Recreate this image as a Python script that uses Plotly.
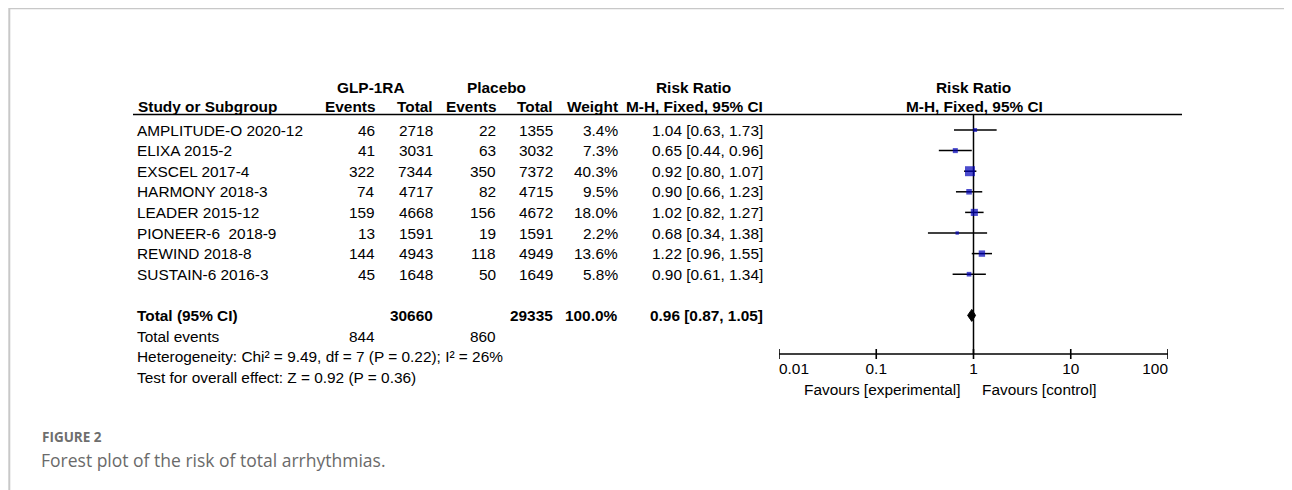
import plotly.graph_objects as go

# ---------------- data ----------------
studies = ["AMPLITUDE-O 2020-12", "ELIXA 2015-2", "EXSCEL 2017-4", "HARMONY 2018-3",
           "LEADER 2015-12", "PIONEER-6\u00a0 2018-9", "REWIND 2018-8", "SUSTAIN-6 2016-3"]
glp_events = [46, 41, 322, 74, 159, 13, 144, 45]
glp_total = [2718, 3031, 7344, 4717, 4668, 1591, 4943, 1648]
pla_events = [22, 63, 350, 82, 156, 19, 118, 50]
pla_total = [1355, 3032, 7372, 4715, 4672, 1591, 4949, 1649]
weights = [3.4, 7.3, 40.3, 9.5, 18.0, 2.2, 13.6, 5.8]
rr = [1.04, 0.65, 0.92, 0.90, 1.02, 0.68, 1.22, 0.90]
ci_low = [0.63, 0.44, 0.80, 0.66, 0.82, 0.34, 0.96, 0.61]
ci_high = [1.73, 0.96, 1.07, 1.23, 1.27, 1.38, 1.55, 1.34]

total_glp_total = 30660
total_pla_total = 29335
total_weight = 100.0
total_rr = 0.96
total_low = 0.87
total_high = 1.05
total_glp_events = 844
total_pla_events = 860
heterogeneity = "Heterogeneity: Chi\u00b2 = 9.49, df = 7 (P = 0.22); I\u00b2 = 26%"
overall_test = "Test for overall effect: Z = 0.92 (P = 0.36)"

tick_vals = [0.01, 0.1, 1, 10, 100]
tick_text = ["0.01", "0.1", "1", "10", "100"]

# ---------------- layout helpers ----------------
OFF = 8                     # page body margin
W, H = 1292 - OFF, 490 - OFF
ROW0, PITCH = 130.0, 20.6   # screen pixel of first row, row pitch


def px(x):
    return (x - OFF) / W


def py(y):
    return 1 - (y - OFF) / H


def rowy(pix):
    return (pix - ROW0) / PITCH


FONT = "Liberation Sans, Arial, sans-serif"
FS = 15.4
BLUE = "#0000b8"

AX_Y = rowy(354)
HDR_LINE = rowy(114.5)
TICK_HALF = 5 / PITCH

fig = go.Figure()

# vertical reference line at 1
fig.add_trace(go.Scatter(x=[1, 1], y=[HDR_LINE, AX_Y], mode="lines",
                         line=dict(color="black", width=1.5), hoverinfo="skip",
                         showlegend=False))

# confidence interval lines
for i in range(len(studies)):
    fig.add_trace(go.Scatter(x=[ci_low[i], ci_high[i]], y=[i, i], mode="lines",
                             line=dict(color="black", width=1.5), hoverinfo="skip",
                             showlegend=False))

# point estimates (size from weight)
fig.add_trace(go.Scatter(x=rr, y=list(range(len(studies))), mode="markers",
                         marker=dict(symbol="square", color=BLUE,
                                     size=[1.35 * w ** 0.5 + 1.4 for w in weights],
                                     line=dict(width=0)),
                         hoverinfo="skip", showlegend=False))

# total diamond
ty = 9
dh = 6 / PITCH
fig.add_trace(go.Scatter(x=[total_low, total_rr, total_high, total_rr, total_low],
                         y=[ty, ty - dh, ty, ty + dh, ty], mode="lines", fill="toself",
                         fillcolor="black", line=dict(color="black", width=1),
                         hoverinfo="skip", showlegend=False))

# axis line + ticks
fig.add_trace(go.Scatter(x=[tick_vals[0], tick_vals[-1]], y=[AX_Y, AX_Y], mode="lines",
                         line=dict(color="black", width=1.6), hoverinfo="skip",
                         showlegend=False))
tx, tyy = [], []
for t in tick_vals:
    tx += [t, t, None]
    tyy += [AX_Y - TICK_HALF, AX_Y + TICK_HALF, None]
fig.add_trace(go.Scatter(x=tx, y=tyy, mode="lines", line=dict(color="black", width=1.6),
                         hoverinfo="skip", showlegend=False))

# tick labels
fig.add_trace(go.Scatter(x=tick_vals, y=[rowy(370)] * len(tick_vals), mode="text",
                         text=tick_text,
                         textposition=["middle right", "middle center", "middle center",
                                       "middle center", "middle left"],
                         textfont=dict(family=FONT, size=FS, color="black"),
                         hoverinfo="skip", showlegend=False, cliponaxis=False))

annotations = []


def txt(x, y, s, anchor="left", bold=False, size=FS, color="black", yref="y", family=FONT):
    annotations.append(dict(x=x, y=y, xref="paper", yref=yref, text=("<b>%s</b>" % s) if bold else s,
                            showarrow=False, xanchor=anchor, yanchor="middle",
                            font=dict(family=family, size=size, color=color)))


# headers
h1 = rowy(87.2)
h2 = rowy(106.5)
txt(px(370.5), h1, "GLP-1RA", "center", True)
txt(px(496), h1, "Placebo", "center", True)
txt(px(693), h1, "Risk Ratio", "center", True)
txt(px(973.5), h1, "Risk Ratio", "center", True)
txt(px(136), h2, "Study or Subgroup", "left", True)
txt(px(377), h2, "Events", "right", True)
txt(px(435), h2, "Total", "right", True)
txt(px(498), h2, "Events", "right", True)
txt(px(555), h2, "Total", "right", True)
txt(px(620), h2, "Weight", "right", True)
txt(px(765), h2, "M-H, Fixed, 95% CI", "right", True)
txt(px(974), h2, "M-H, Fixed, 95% CI", "center", True)

# study rows
for i, s in enumerate(studies):
    txt(px(135), i, s)
    txt(px(377), i, str(glp_events[i]), "right")
    txt(px(435), i, str(glp_total[i]), "right")
    txt(px(498), i, str(pla_events[i]), "right")
    txt(px(555), i, str(pla_total[i]), "right")
    txt(px(620), i, "%.1f%%" % weights[i], "right")
    txt(px(765), i, "%.2f [%.2f, %.2f]" % (rr[i], ci_low[i], ci_high[i]), "right")

# totals
txt(px(135), 9, "Total (95% CI)", "left", True)
txt(px(435), 9, str(total_glp_total), "right", True)
txt(px(555), 9, str(total_pla_total), "right", True)
txt(px(620), 9, "%.1f%%" % total_weight, "right", True)
txt(px(765), 9, "%.2f [%.2f, %.2f]" % (total_rr, total_low, total_high), "right", True)
txt(px(135), 10, "Total events")
txt(px(377), 10, str(total_glp_events), "right")
txt(px(498), 10, str(total_pla_events), "right")
txt(px(135), 11, heterogeneity)
txt(px(135), 12, overall_test)

# favours labels
txt(px(963), rowy(389), "Favours [experimental]", "right")
txt(px(980), rowy(389), "Favours [control]", "left")

# caption
txt(px(40), py(437), "FIGURE 2", "left", True, 13.5, "#6e6e6e", "paper", "Open Sans, sans-serif")
txt(px(39), py(460), "Forest plot of the risk of total arrhythmias.", "left", False, 17.5,
    "#6a6a6a", "paper", "Open Sans, sans-serif")

shapes = [
    # header underline
    dict(type="line", xref="paper", yref="y", x0=px(133), x1=px(1182), y0=HDR_LINE, y1=HDR_LINE,
         line=dict(color="black", width=1.5)),
    # frame
    dict(type="line", xref="paper", yref="paper", x0=px(9), x1=1, y0=1 - 0.6 / H, y1=1 - 0.6 / H,
         line=dict(color="#c8c8c8", width=1.5)),
    dict(type="line", xref="paper", yref="paper", x0=px(9.3), x1=px(9.3), y0=0, y1=1,
         line=dict(color="#c8c8c8", width=2)),
]

fig.update_layout(
    width=W, height=H,
    margin=dict(l=0, r=0, t=0, b=0),
    paper_bgcolor="white", plot_bgcolor="rgba(0,0,0,0)",
    xaxis=dict(type="log", range=[-2, 2], domain=[px(779), px(1168)],
               showgrid=False, zeroline=False, showticklabels=False, ticks="", showline=False),
    yaxis=dict(range=[rowy(490), rowy(OFF)], domain=[0, 1], showgrid=False, zeroline=False,
               showticklabels=False, ticks="", showline=False),
    annotations=annotations,
    shapes=shapes,
)

fig.write_html("out.html")
